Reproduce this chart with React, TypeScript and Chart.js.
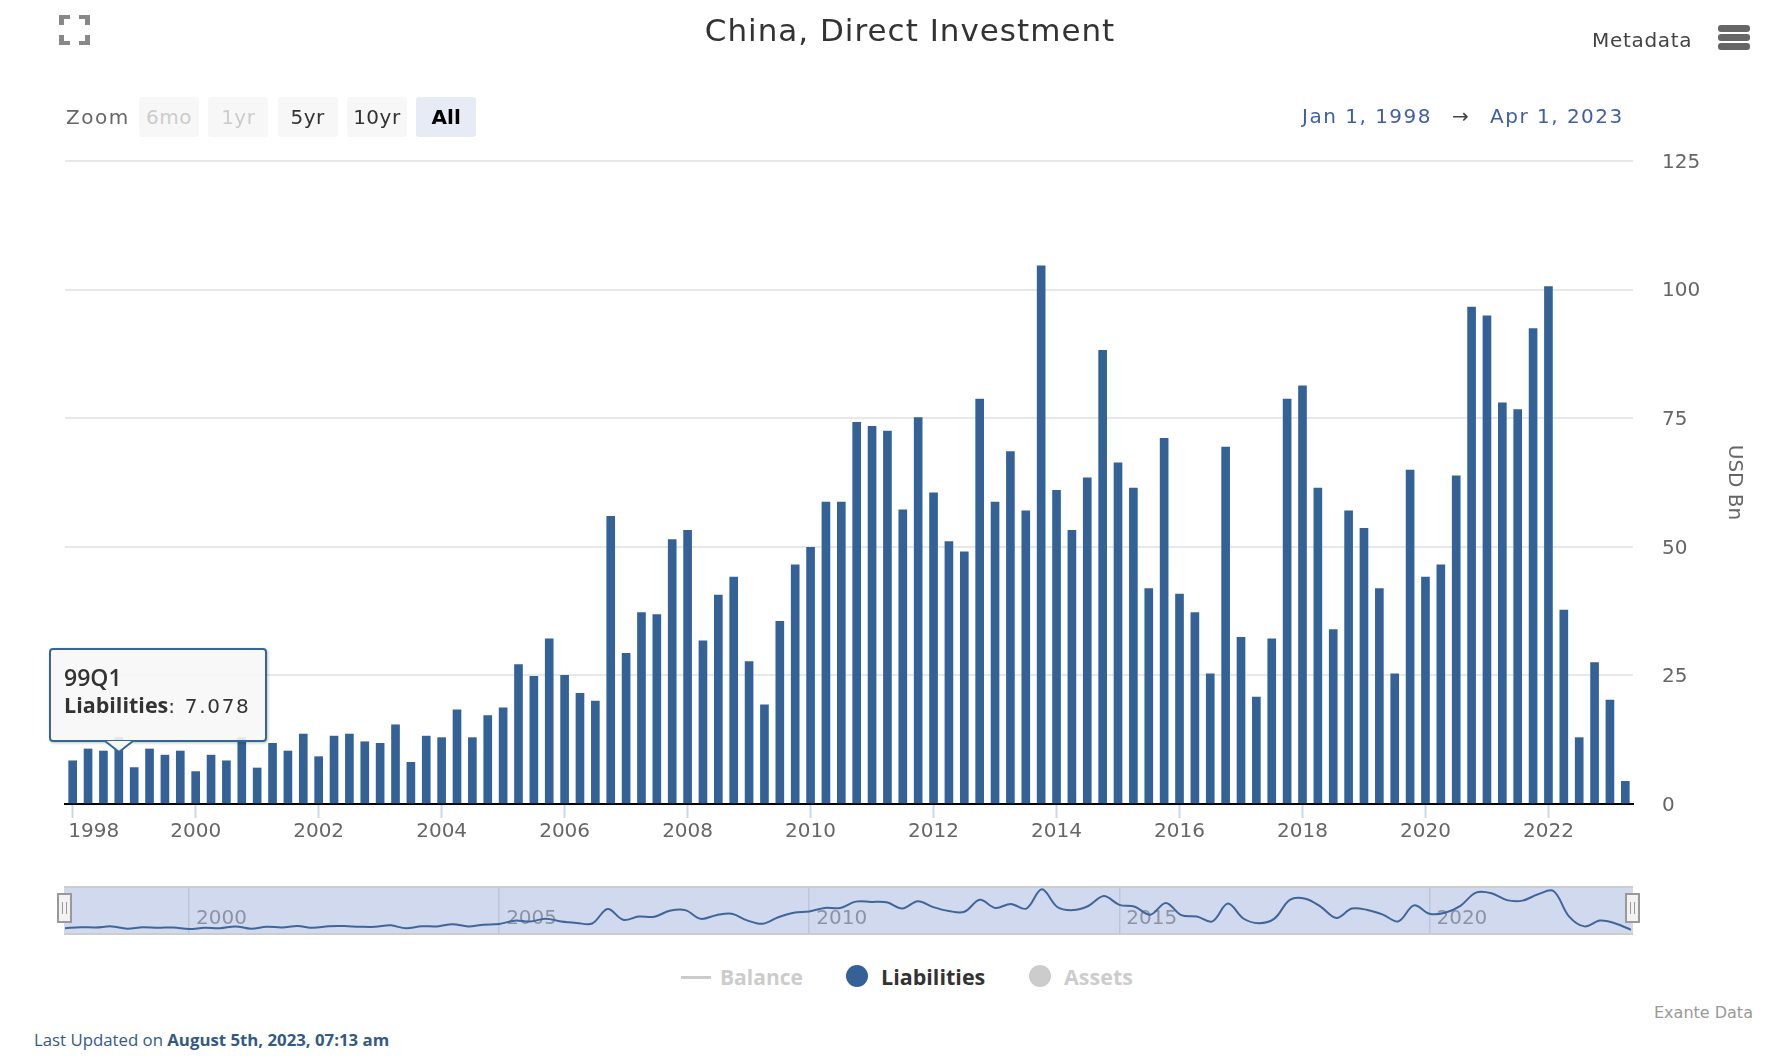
import React, { useEffect, useRef } from "react";
import { Chart, registerables } from "chart.js";

Chart.register(...registerables);

const years = [1998,1999,2000,2001,2002,2003,2004,2005,2006,2007,2008,2009,2010,2011,2012,2013,2014,2015,2016,2017,2018,2019,2020,2021,2022,2023];
const quarters = ["Q1","Q2","Q3","Q4"];
const categories: string[] = years.flatMap((y) => quarters.map((q) => `${String(y).slice(2)}${q}`)).slice(0, 102);

const liabilities = [
  8.4,10.7,10.3,12.9,7.078,10.7,9.5,10.3,6.3,9.5,8.4,12.9,7.0,11.8,10.3,13.6,9.2,13.2,13.6,12.1,11.8,15.4,8.1,13.2,12.9,18.3,12.9,17.2,18.7,27.1,
  24.8,32.1,25,21.5,20,55.9,29.3,37.2,36.8,51.4,53.2,31.7,40.6,44.1,27.7,19.3,35.5,46.5,49.9,58.7,58.7,74.2,73.4,72.5,57.2,75.1,60.5,51,49,78.7,
  58.7,68.5,57,104.6,61,53.2,63.4,88.2,66.3,61.4,41.9,71.1,40.8,37.2,25.3,69.4,32.4,20.8,32.1,78.7,81.3,61.4,33.9,57,53.6,41.9,25.3,64.9,44.1,46.5,
  63.8,96.6,94.9,78,76.7,92.4,100.6,37.7,12.9,27.5,20.2,4.4,
];

const yTicks = [0,25,50,75,100,125];
const mainTickYears = ["98Q1","00Q1","02Q1","04Q1","06Q1","08Q1","10Q1","12Q1","14Q1","16Q1","18Q1","20Q1","22Q1"];
const navTickYears = ["00Q1","05Q1","10Q1","15Q1","20Q1"];
const zoomButtons = ["6mo","1yr","5yr","10yr","All"];

const FONT = '"DejaVu Sans", sans-serif';
const OPEN = '"Open Sans", sans-serif';
const BAR = "#346296";

function Text({ x, y, size = 20, color = "#333", weight = 400, children, anchor = "left", spacing = 0, font = FONT }: any) {
  const style: React.CSSProperties = {
    position: "absolute", top: y, transform: anchor === "center" ? "translate(-50%,-50%)" : anchor === "right" ? "translate(-100%,-50%)" : "translateY(-50%)",
    left: x, fontFamily: font, fontSize: size, color, fontWeight: weight, whiteSpace: "pre", letterSpacing: spacing, lineHeight: 1,
  };
  return <div style={style}>{children}</div>;
}

const firstLabelPlugin = {
  id: "firstLabel",
  afterDraw(chart: any) {
    const s = chart.scales.x;
    const ctx = chart.ctx;
    ctx.save();
    ctx.font = `20px ${FONT}`;
    ctx.fillStyle = "#666";
    ctx.textAlign = "center";
    ctx.textBaseline = "middle";
    ctx.fillText("1998", s.getPixelForTick(0) + 21, 832);
    ctx.restore();
  },
};

const navLabelPlugin = {
  id: "navLabels",
  beforeDatasetsDraw(chart: any) {
    const s = chart.scales.x;
    const ctx = chart.ctx;
    ctx.save();
    ctx.font = `20px ${FONT}`;
    ctx.fillStyle = "#8d93a6";
    ctx.textAlign = "left";
    ctx.textBaseline = "middle";
    navTickYears.forEach((c) => {
      ctx.fillText(`20${c.slice(0, 2)}`, s.getPixelForValue(categories.indexOf(c)) + 7, 31);
    });
    ctx.restore();
  },
};

export default function App() {
  const mainRef = useRef<HTMLCanvasElement>(null);
  const navRef = useRef<HTMLCanvasElement>(null);

  useEffect(() => {
    const main = new Chart(mainRef.current!, {
      type: "bar",
      data: {
        labels: categories,
        datasets: [{ label: "Liabilities", data: liabilities, backgroundColor: BAR, barThickness: 8, borderWidth: 0 }],
      },
      options: {
        animation: false,
        responsive: false,
        layout: { padding: { left: 65, top: 161, right: 40, bottom: 0 } },
        plugins: { legend: { display: false }, tooltip: { enabled: false }, title: { display: false } },
        scales: {
          x: {
            offset: true,
            afterBuildTicks(s: any) { s.ticks = s.ticks.filter((t: any) => mainTickYears.includes(categories[t.value])); },
            afterFit(s: any) { s.height = 96; },
            grid: { drawOnChartArea: false, drawTicks: true, tickLength: 14, tickColor: "#ccd6eb", tickWidth: 2, offset: false },
            border: { color: "#000", width: 2 },
            ticks: {
              autoSkip: false, maxRotation: 0, padding: 2, color: "#666", font: { size: 20, family: FONT },
              callback(this: any, v: any) { const c = categories[v]; return c === "98Q1" ? "" : `20${c.slice(0, 2)}`; },
            },
          },
          y: {
            position: "right", min: 0, max: 125,
            afterBuildTicks(s: any) { s.ticks = yTicks.map((value) => ({ value })); },
            afterFit(s: any) { s.width = 113; },
            grid: { color: "#e8e8e8", lineWidth: 2, drawTicks: false },
            border: { display: false },
            ticks: { padding: 29, labelOffset: 1.5, color: "#666", font: { size: 20, family: FONT } },
            title: { display: true, text: "USD Bn", color: "#666", font: { size: 20, family: FONT }, padding: 0 },
          },
        },
      },
      plugins: [firstLabelPlugin],
    } as any);

    const nav = new Chart(navRef.current!, {
      type: "line",
      data: {
        labels: categories,
        datasets: [{ label: "Liabilities", data: liabilities, borderColor: "#3f6599", borderWidth: 2, pointRadius: 0, tension: 0.35, fill: false }],
      },
      options: {
        animation: false,
        responsive: false,
        layout: { padding: { left: 1, right: 2, top: 0, bottom: 0 } },
        plugins: { legend: { display: false }, tooltip: { enabled: false } },
        scales: {
          x: {
            position: "bottom",
            afterBuildTicks(s: any) { s.ticks = s.ticks.filter((t: any) => navTickYears.includes(categories[t.value])); },
            afterFit(s: any) { s.height = 0; },
            grid: { color: "#bcc5da", lineWidth: 1.5, drawTicks: false },
            border: { display: false },
            ticks: { display: false, autoSkip: false, maxRotation: 0 },
          },
          y: { display: false, min: -3.5, max: 108 },
        },
      },
      plugins: [navLabelPlugin],
    } as any);

    return () => { main.destroy(); nav.destroy(); };
  }, []);

  return (
    <div style={{ position: "absolute", left: 0, top: 0, width: 1786, height: 1063, overflow: "hidden", background: "#fff" }}>
      <canvas ref={mainRef} width={1786} height={900} style={{ position: "absolute", left: 0, top: 0 }} />

      <div style={{ position: "absolute", left: 64, top: 886, width: 1569, height: 49, boxSizing: "border-box", background: "#d0d9ee", borderTop: "2px solid #ccc", borderBottom: "2px solid #ccc" }}>
        <canvas ref={navRef} width={1569} height={45} style={{ display: "block" }} />
      </div>
      {[64.5, 1632].map((cx) => (
        <div key={cx} style={{ position: "absolute", left: cx - 7.5, top: 893, width: 15, height: 30, boxSizing: "border-box", background: "#f2f2f2", border: "2px solid #999" }}>
          <div style={{ position: "absolute", left: 3, top: 7, width: 1, height: 12, background: "#999" }} />
          <div style={{ position: "absolute", left: 7, top: 7, width: 1, height: 12, background: "#999" }} />
        </div>
      ))}

      <Text x={910} y={30} size={31} anchor="center" color="#333" spacing={1}>China, Direct Investment</Text>
      <Text x={1592} y={40} color="#444" spacing={0.7}>Metadata</Text>
      {[25, 34, 43].map((t) => (
        <div key={t} style={{ position: "absolute", left: 1718, top: t, width: 32, height: 6.5, borderRadius: 3, background: "#666" }} />
      ))}
      <svg style={{ position: "absolute", left: 59, top: 15 }} width={31} height={30}>
        <path d="M0 10V0H11V4H5V10Z M31 10V0H20V4H26V10Z M0 20V30H11V26H5V20Z M31 20V30H20V26H26V20Z" fill="#888" />
      </svg>

      <Text x={66} y={117} color="#666" spacing={1.5}>Zoom</Text>
      {zoomButtons.map((b, i) => {
        const disabled = i < 2;
        const active = b === "All";
        return (
          <div key={b} style={{
            position: "absolute", left: 139 + i * 69.3, top: 97, width: 60, height: 40, borderRadius: 3,
            background: active ? "#e6ebf5" : "#f7f7f7", color: disabled ? "#ccc" : active ? "#000" : "#333",
            fontFamily: FONT, fontSize: 20, letterSpacing: active ? 0 : 0.5, fontWeight: active ? 700 : 400, display: "flex", alignItems: "center", justifyContent: "center",
          }}>{b}</div>
        );
      })}
      <Text x={1302} y={116} color="#3f5fa3" spacing={1.5}>Jan 1, 1998</Text>
      <Text x={1452} y={116} color="#444">→</Text>
      <Text x={1490} y={116} color="#3f5fa3" spacing={1.5}>Apr 1, 2023</Text>

      <div style={{ position: "absolute", left: 681, top: 975.5, width: 30, height: 3, background: "#ccc" }} />
      <Text x={720} y={977} weight={700} color="#ccc" font={OPEN} size={21}>Balance</Text>
      <div style={{ position: "absolute", left: 846, top: 965, width: 22, height: 22, borderRadius: 11, background: BAR }} />
      <Text x={881} y={977} weight={700} color="#333" font={OPEN} size={21.5}>Liabilities</Text>
      <div style={{ position: "absolute", left: 1029, top: 965, width: 22, height: 22, borderRadius: 11, background: "#ccc" }} />
      <Text x={1064} y={977} weight={700} color="#ccc" font={OPEN} size={21.5}>Assets</Text>

      <Text x={1654} y={1013} size={16} color="#999">Exante Data</Text>
      <Text x={34} y={1040} size={16.8} color="#335a85" font={OPEN}>Last Updated on <b>August 5th, 2023, 07:13 am</b></Text>

      <div style={{ position: "absolute", left: 49, top: 648, width: 218, height: 94, boxSizing: "border-box", border: "2px solid #336699", borderRadius: 4, background: "rgba(247,247,247,0.88)", boxShadow: "1px 1px 3px rgba(0,0,0,0.25)" }} />
      <svg style={{ position: "absolute", left: 105, top: 740 }} width={28} height={14}>
        <path d="M0 1L14 12L28 1" fill="#f7f7f7" stroke="#336699" strokeWidth={2} />
      </svg>
      <Text x={64} y={677} size={23} color="#333" weight={600} font={OPEN}>99Q1</Text>
      <Text x={64} y={705} size={20} color="#333" spacing={1.7}><span style={{ fontFamily: OPEN, fontWeight: 700, fontSize: 21.5, letterSpacing: 0 }}>Liabilities</span>: 7.078</Text>
    </div>
  );
}
